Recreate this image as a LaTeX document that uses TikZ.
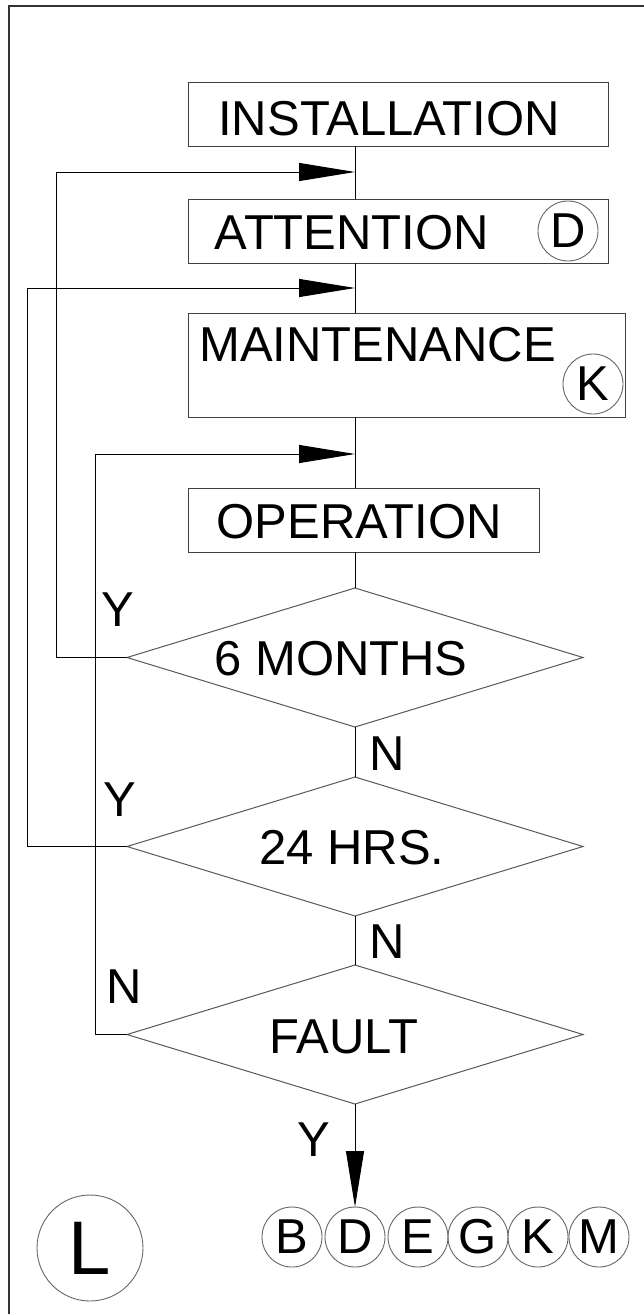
\documentclass[tikz,border=0pt]{standalone}
\usepackage{fontspec}
\setmainfont{Liberation Sans}
\usetikzlibrary{arrows.meta,shapes.geometric}
\begin{document}
\begin{tikzpicture}[x=1pt,y=-1pt,
  every node/.style={font=\fontsize{49}{58}\selectfont, inner sep=0pt, outer sep=0pt},
  box/.style={rectangle, draw=black!75, line width=1pt, anchor=north west},
  dia/.style={diamond, draw=black!65, line width=1pt, minimum width=456pt, minimum height=139pt},
  flow/.style={draw=black, line width=1pt},
  arr/.style={-{Triangle[length=56pt,width=18pt]}},
  ring/.style={circle, draw=black!60, line width=0.9pt, minimum size=60pt},
  lbl/.style={anchor=base}]
\fill[white] (0,0) rectangle (644,1314);
\useasboundingbox (0,0) rectangle (644,1314);
\draw[line width=1.3pt, black!80] (9,1314) -- (9,6) -- (644,6);

% boxes
\node[box, minimum width=420pt, minimum height=64pt] (inst) at (188.5,82) {};
\node[box, minimum width=420pt, minimum height=64pt] (att) at (188.5,199) {};
\node[box, minimum width=437pt, minimum height=104pt] (maint) at (188.5,313) {};
\node[box, minimum width=351pt, minimum height=64pt] (oper) at (188.5,488) {};

% box texts
\node[lbl] (tinst) at (389,135) {INSTALLATION};
\node[lbl] (tatt) at (352,249) {ATTENTION};
\node[lbl] (tmaint) at (377.5,361.7) {MAINTENANCE};
\node[lbl] (toper) at (359,538) {OPERATION};
\node[ring] (cAD) at (568,231) {D};
\node[ring] (cAK) at (593,384) {K};

% diamonds
\node[dia] (d1) at (355,657.5) {};
\node[dia] (d2) at (355,846.5) {};
\node[dia] (d3) at (355,1034.5) {};
\node[lbl] (t1) at (341,675) {6 MONTHS};
\node[lbl] (t2) at (352,864) {24 HRS.};
\node[lbl] (t3) at (343.5,1053) {FAULT};

% Y/N labels
\node[lbl] (y1) at (118,626.7) {Y};
\node[lbl] (n1) at (387,770) {N};
\node[lbl] (y2) at (120,816) {Y};
\node[lbl] (n2) at (387,958) {N};
\node[lbl] (n3) at (124,1003) {N};
\node[lbl] (y4) at (314,1156.7) {Y};

% bottom circles
\node[ring] (cB) at (292,1237) {B};
\node[ring] (cD) at (355,1237) {D};
\node[ring] (cE) at (418,1237) {E};
\node[ring] (cG) at (478,1237) {G};
\node[ring] (cK) at (538,1237) {K};
\node[ring] (cM) at (599,1237) {M};
\node[circle, draw=black!60, line width=0.9pt, minimum size=106pt, font=\fontsize{76}{90}\selectfont] (cL) at (90,1248) {L};

% junctions
\coordinate (j1) at (355,172);
\coordinate (j2) at (355,288);
\coordinate (j3) at (355,454);

% main flow
\draw[flow] (d1.north |- inst.south) -- (d1.north |- att.north);
\draw[flow] (d1.north |- att.south) -- (d1.north |- maint.north);
\draw[flow] (d1.north |- maint.south) -- (d1.north |- oper.north);
\draw[flow] (d1.north |- oper.south) -- (d1.north);
\draw[flow] (d1.south) -- (d2.north);
\draw[flow] (d2.south) -- (d3.north);
\draw[flow, arr] (d3.south) -- (cD.north);

% loops
\draw[flow, arr] (d1.west) -- ++(-70.3,0) |- (j1);
\draw[flow, arr] (d2.west) -- ++(-100,0) |- (j2);
\draw[flow, arr] (d3.west) -- ++(-32,0) |- (j3);
\end{tikzpicture}
\end{document}
